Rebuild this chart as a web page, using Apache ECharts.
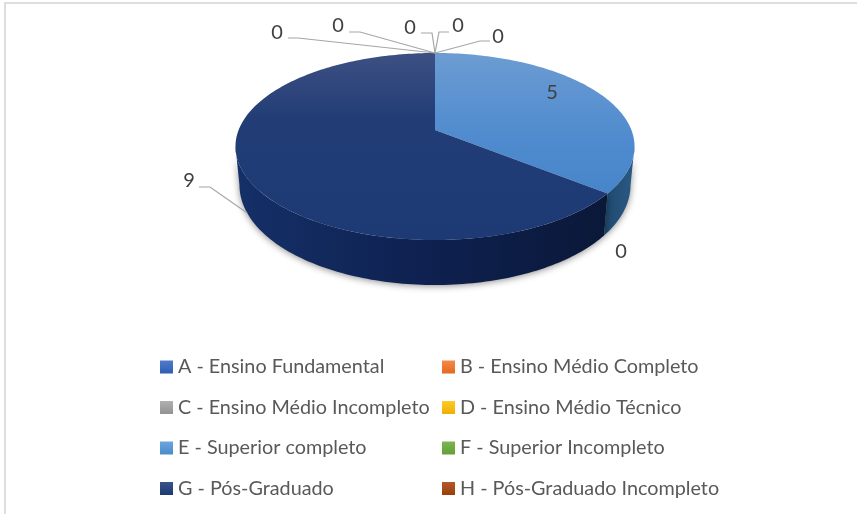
<!DOCTYPE html>
<html>
<head>
<meta charset="utf-8">
<style>html,body{margin:0;padding:0;background:#fff}#c{width:857px;height:514px}</style>
<script src="https://cdn.jsdelivr.net/npm/echarts@6/dist/echarts.min.js"></script>
</head>
<body>
<div id="c"></div>
<script>
// ---- data ----
const categories = [
  'A - Ensino Fundamental', 'B - Ensino Médio Completo',
  'C - Ensino Médio Incompleto', 'D - Ensino Médio Técnico',
  'E - Superior completo', 'F - Superior Incompleto',
  'G - Pós-Graduado', 'H - Pós-Graduado Incompleto'
];
const values = [0, 0, 0, 0, 5, 0, 9, 0];

// ---- styles ----
const legendGradients = [
  ['#4E7BCB', '#2F5DB2'], ['#F58A48', '#E4681F'],
  ['#B0B0B0', '#929292'], ['#FFC929', '#EDB000'],
  ['#6BA5DE', '#4A8BCB'], ['#7DB552', '#62A038'],
  ['#3A5488', '#1C3A74'], ['#B5582A', '#983F0A']
];
const FONT = 'Lato, Carlito, "Open Sans", sans-serif';
const LABEL_COLOR = '#404040';
const LEADER_COLOR = '#A6A6A6';
// label placement per category: [label x, label y, elbow x, elbow y, stub x, stub y], null = no leader
const labelLayout = [
  [338, 26, 360, 32, 349, 32],
  [410, 28, 432, 33, 421, 33],
  [458, 26, 439, 32, 449, 32],
  [498, 37, 480, 41, 490, 41],
  [552, 93, null],
  [621, 252, null],
  [189, 181, 210, 187, 199, 187],
  [277, 33, 298, 38, 288, 38]
];
// pie projection
const APEX = [435, 130];
const PERSP = 0.1765, SCALE_X = 196.4, SCALE_Y = 90.6;
const TH_BASE = 37, TH_V = 8, RIM_X = 0.98;

const total = values.reduce((a, b) => a + b, 0);
const startAngles = [];
values.reduce((acc, v, i) => { startAngles[i] = acc; return acc + v / total * 2 * Math.PI; }, 0);

function topPoint(t, r) {
  r = r === undefined ? 1 : r;
  const u = Math.sin(t) * r, v = -Math.cos(t) * r, d = 1 - PERSP * v;
  return [APEX[0] + SCALE_X * u / d, APEX[1] + SCALE_Y * v / d];
}
function rimPoint(t) {
  const p = topPoint(t), v = -Math.cos(t);
  return [APEX[0] + (p[0] - APEX[0]) * RIM_X, p[1] + TH_BASE + TH_V * v];
}
const VIS_A = Math.acos(-PERSP), VIS_B = 2 * Math.PI - VIS_A;

function arc(a, b, fn) {
  const n = Math.max(2, Math.ceil((b - a) / 0.02)), pts = [];
  for (let i = 0; i <= n; i++) pts.push(fn(a + (b - a) * i / n));
  return pts;
}
const vGrad = (stops) => ({ type: 'linear', x: 0, y: 0, x2: 0, y2: 1, colorStops: stops });
const hGrad = (stops) => ({ type: 'linear', x: 0, y: 0, x2: 1, y2: 0, colorStops: stops });

const topFills = {
  4: vGrad([{ offset: 0, color: '#6C9CD3' }, { offset: 0.6, color: '#4F8BCE' }, { offset: 1, color: '#4785CA' }]),
  6: vGrad([{ offset: 0, color: '#3D5083' }, { offset: 0.35, color: '#223D76' }, { offset: 1, color: '#1D3A75' }])
};
const sideFills = {
  4: hGrad([{ offset: 0, color: '#20496F' }, { offset: 1, color: '#2A5A84' }]),
  6: hGrad([{ offset: 0, color: '#153068' }, { offset: 0.5, color: '#0E2150' }, { offset: 1, color: '#0A1838' }])
};

function makeRender(idx) {
  return function (params, api) {
    const val = api.value(0);
    const a0 = startAngles[idx], a1 = a0 + val / total * 2 * Math.PI;
    const children = [];
    if (val > 0) {
      const sa = Math.max(a0, VIS_A), sb = Math.min(a1, VIS_B);
      if (sb > sa) {
        const up = arc(sa, sb, topPoint), lo = arc(sa, sb, rimPoint).reverse();
        children.push({
          type: 'polygon', shape: { points: up.concat(lo) },
          style: { fill: sideFills[idx], shadowBlur: 7, shadowColor: 'rgba(0,0,0,0.45)', shadowOffsetY: 1 },
          z2: 1
        });
      }
      children.push({
        type: 'polygon', shape: { points: [APEX].concat(arc(a0, a1, topPoint)) },
        style: { fill: topFills[idx] }, z2: 2
      });
    }
    const lay = labelLayout[idx];
    if (lay[2] !== null) {
      const mid = (a0 + a1) / 2;
      const end = val > 0 ? rimPoint(mid) : topPoint(mid);
      children.push({
        type: 'polyline',
        shape: { points: [[lay[4], lay[5]], [lay[2], lay[3]], end] },
        style: { stroke: LEADER_COLOR, lineWidth: 1.2, fill: 'none' }, z2: 3
      });
    }
    children.push({
      type: 'text', z2: 4,
      style: { text: String(val), x: lay[0], y: lay[1], align: 'center', verticalAlign: 'middle',
        fill: LABEL_COLOR, font: '20px ' + FONT }
    });
    return { type: 'group', children };
  };
}

const leftNames = categories.filter((_, i) => i % 2 === 0);
const rightNames = categories.filter((_, i) => i % 2 === 1);
const legendCommon = {
  orient: 'vertical', top: 357, itemGap: 20.5, itemWidth: 13, itemHeight: 13, padding: 0,
  icon: 'rect', selectedMode: false,
  textStyle: { color: '#595959', fontFamily: FONT, fontSize: 19.8 }
};
const legendItem = (name) => {
  const g = legendGradients[categories.indexOf(name)];
  return { name, icon: 'rect', itemStyle: { color: vGrad([{ offset: 0, color: g[0] }, { offset: 1, color: g[1] }]) } };
};

const chart = echarts.init(document.getElementById('c'), null, { renderer: 'canvas' });
chart.setOption({
  animation: false,
  backgroundColor: '#ffffff',
  tooltip: { show: false },
  legend: [
    Object.assign({}, legendCommon, { left: 160, data: leftNames.map(legendItem) }),
    Object.assign({}, legendCommon, { left: 442, data: rightNames.map(legendItem) })
  ],
  graphic: [
    { type: 'polyline', silent: true, shape: { points: [[5, 514], [5, 3], [857, 3]] },
      style: { stroke: '#DEDEDE', lineWidth: 2, fill: 'none' } }
  ],
  series: categories.map((name, i) => ({
    type: 'custom', name, coordinateSystem: 'none', silent: true,
    data: [[values[i]]], renderItem: makeRender(i),
    itemStyle: { color: legendGradients[i][1] }, z: i === 4 || i === 6 ? 2 : 3
  }))
});
</script>
</body>
</html>
